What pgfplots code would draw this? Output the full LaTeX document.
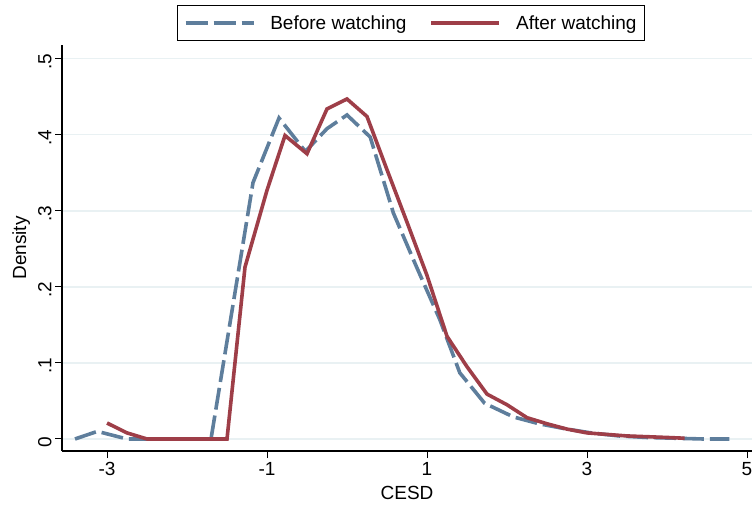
\documentclass[border=0pt]{standalone}
\usepackage{fontspec}
\setmainfont{Liberation Sans}
\usepackage{pgfplots}
\pgfplotsset{compat=1.18}

\definecolor{befblue}{RGB}{94,126,156}
\definecolor{aftred}{RGB}{158,62,72}
\definecolor{gridc}{RGB}{233,241,243}

% kernel density estimates of CESD, before and after watching
\pgfplotstableread{
x      y
-3.40  0.000
-3.12  0.010
-2.75  0.000
-2.40  0.000
-2.05  0.000
-1.70  0.000
-1.175 0.337
-0.85  0.422
-0.52  0.378
-0.25  0.408
 0.00  0.426
 0.29  0.397
 0.58  0.297
 0.87  0.226
 1.16  0.157
 1.41  0.087
 1.72  0.047
 2.08  0.029
 2.40  0.020
 2.75  0.013
 3.05  0.008
 3.40  0.004
 3.75  0.002
 4.10  0.001
 4.45  0.000
 4.78  0.000
}\before

\pgfplotstableread{
x      y
-3.00  0.021
-2.75  0.008
-2.50  0.000
-2.00  0.000
-1.50  0.000
-1.275 0.226
-1.00  0.327
-0.775 0.399
-0.50  0.375
-0.25  0.434
 0.00  0.447
 0.25  0.424
 0.50  0.354
 0.75  0.285
 1.00  0.215
 1.25  0.135
 1.50  0.095
 1.75  0.059
 2.00  0.045
 2.25  0.028
 2.50  0.020
 2.75  0.013
 3.00  0.008
 3.25  0.006
 3.50  0.004
 3.75  0.003
 4.00  0.002
 4.22  0.001
}\after

\begin{document}
\begin{tikzpicture}[x=1pt,y=1pt]
\useasboundingbox (0,0) rectangle (752,507);
\begin{axis}[
  at={(62pt,56pt)}, anchor=south west,
  scale only axis,
  width=690pt, height=406pt,
  xmin=-3.5625, xmax=5.0625,
  ymin=-0.0158, ymax=0.518,
  axis x line*=bottom, axis y line*=left,
  axis line style={line width=1.2pt, -},
  xtick={-3,-1,1,3,5},
  ytick={0,0.1,0.2,0.3,0.4,0.5},
  yticklabels={0,.1,.2,.3,.4,.5},
  tick align=outside,
  major tick length=7pt,
  tick style={line width=1pt, black},
  ymajorgrids,
  major grid style={gridc, line width=1.5pt},
  font=\fontsize{19}{22}\selectfont,
  /pgf/number format/assume math mode=true,
  xticklabel style={yshift=-1pt},
  yticklabel style={rotate=90, anchor=south, xshift=-3pt},
  xlabel={CESD},
  ylabel={Density},
  xlabel style={yshift=-3pt},
  ylabel style={yshift=1pt},
  legend columns=2,
  legend cell align=left,
  legend style={
    at={(0.506,1.0985)}, anchor=north,
    draw=black, line width=0.8pt,
    inner xsep=6pt, inner ysep=8pt,
    font=\fontsize{19}{22}\selectfont,
    /tikz/every odd column/.append style={column sep=13pt},
    /tikz/every even column/.append style={column sep=21pt},
  },
  legend image code/.code={\draw[#1] (0pt,0pt) -- (68pt,0pt);},
]
\addplot[befblue, line width=3.6pt, dash pattern=on 22pt off 6pt] table[x=x,y=y] {\before};
\addlegendentry{Before watching}
\addplot[aftred, line width=3.6pt] table[x=x,y=y] {\after};
\addlegendentry{After watching}
\end{axis}
\end{tikzpicture}
\end{document}
